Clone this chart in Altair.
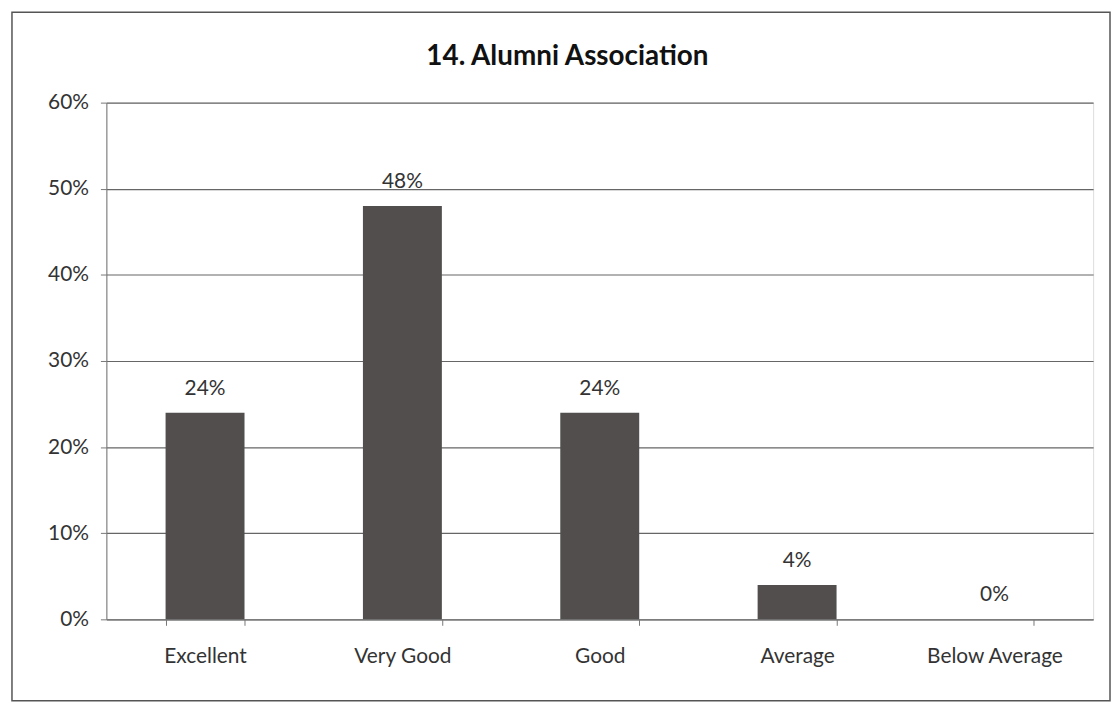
import altair as alt
import pandas as pd

categories = ["Excellent", "Very Good", "Good", "Average", "Below Average"]
values = [0.24, 0.48, 0.24, 0.04, 0.0]
labels = ["24%", "48%", "24%", "4%", "0%"]
title_text = "14. Alumni Association"

df = pd.DataFrame({"cat": categories, "val": values, "lab": labels})

FONT = "Lato"

base = alt.Chart(df)

x_enc = alt.X("cat:N", sort=categories, title=None,
              scale=alt.Scale(paddingInner=0.6, paddingOuter=0.3),
              axis=alt.Axis(labelAngle=0, labelFontSize=21, labelColor="#333",
                            labelFont=FONT, labelPadding=20, tickSize=6,
                            tickBand="extent", domainColor="#777", tickColor="#777",
                            grid=False))
y_enc = alt.Y("val:Q", title=None,
              scale=alt.Scale(domain=[0, 0.6]),
              axis=alt.Axis(format=".0%", values=[0, 0.1, 0.2, 0.3, 0.4, 0.5, 0.6],
                            labelFontSize=21, labelColor="#333", labelFont=FONT,
                            tickSize=6, labelPadding=12, domainColor="#777",
                            tickColor="#777", gridColor="#666", gridWidth=1.2,
                            grid=True))

bars = base.mark_bar(color="#524e4e").encode(x=x_enc, y=y_enc)

text = base.mark_text(dy=-24, fontSize=21, color="#333", font=FONT).encode(
    x=alt.X("cat:N", sort=categories),
    y=alt.Y("val:Q"),
    text="lab:N",
)

single = alt.Chart(pd.DataFrame({"t": [title_text]}))

frame = single.mark_rect(fill=None, stroke="#555", strokeWidth=1.5).encode(
    x=alt.value(-95), x2=alt.value(1010), y=alt.value(-91), y2=alt.value(602)
)

title = single.mark_text(fontSize=28, font=FONT, fontWeight="bold", color="#111",
                         align="center", baseline="middle").encode(
    x=alt.value(464), y=alt.value(-46), text="t:N"
)

chart = alt.layer(frame, bars, text, title).properties(
    width=993,
    height=520,
    autosize=alt.AutoSizeParams(type="none"),
    padding={"left": 99, "top": 93, "right": 18, "bottom": 85},
).configure_view(stroke=None).configure(background="white")

chart.save("out.html", embed_options={"renderer": "svg", "actions": False})
